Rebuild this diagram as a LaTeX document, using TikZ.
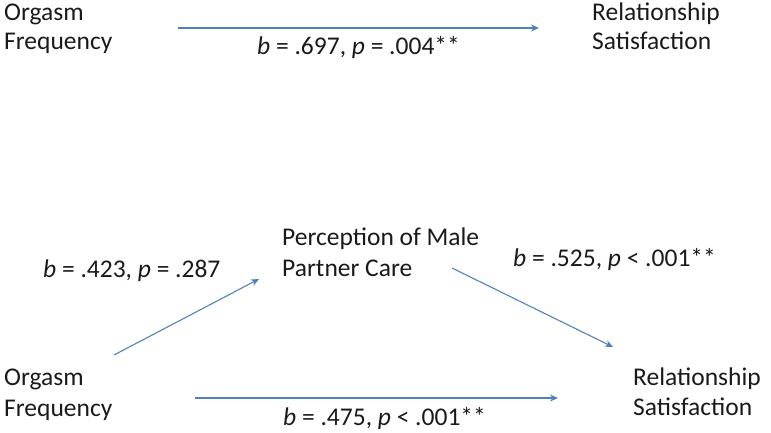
\documentclass[tikz,border=0pt]{standalone}
\usepackage{fontspec}
\setmainfont{Carlito}
\usetikzlibrary{arrows.meta}
\definecolor{arrowblue}{RGB}{79,129,189}
\definecolor{txt}{RGB}{26,26,26}
\tikzset{
  lbl/.style={anchor=base west, inner sep=0pt, text=txt, font=\fontsize{25.5}{30}\selectfont},
  conn/.style={draw=arrowblue, line width=1.1pt, -{Stealth[length=8pt,width=7pt]}}
}
\begin{document}
\begin{tikzpicture}[x=1pt,y=-1pt]
\useasboundingbox (0,0) rectangle (771,433);
% top model
\node[lbl] (of1a) at (4,21) {Orgasm};
\node[lbl] (of1b) at (4,50) {Frequency};
\node[lbl] (rs1a) at (592,21) {Relationship};
\node[lbl] (rs1b) at (592,50) {Satisfaction};
\node[lbl] (c1) at (257,55) {\textit{b} = .697, \textit{p} = .004**};
\coordinate (t1s) at (178,28);
\coordinate (t1e) at (539,28);
\draw[conn] (t1s) -- (t1e);
% bottom model
\node[lbl] (pm1) at (282,245) {Perception of Male};
\node[lbl] (pm2) at (282,276) {Partner Care};
\node[lbl] (a) at (43,277) {\textit{b} = .423, \textit{p} = .287};
\node[lbl] (bb) at (513,266) {\textit{b} = .525, \textit{p} < .001**};
\node[lbl] (of2a) at (4,385) {Orgasm};
\node[lbl] (of2b) at (4,416) {Frequency};
\node[lbl] (rs2a) at (633,385) {Relationship};
\node[lbl] (rs2b) at (633,415) {Satisfaction};
\node[lbl] (cp) at (283,425) {\textit{b} = .475, \textit{p} < .001**};
\coordinate (m1s) at (114,355);
\coordinate (m1e) at (259,279);
\coordinate (m2s) at (452,268);
\coordinate (m2e) at (613,347);
\coordinate (d1s) at (195,398);
\coordinate (d1e) at (558,398);
\draw[conn] (m1s) -- (m1e);
\draw[conn] (m2s) -- (m2e);
\draw[conn] (d1s) -- (d1e);
\end{tikzpicture}
\end{document}
